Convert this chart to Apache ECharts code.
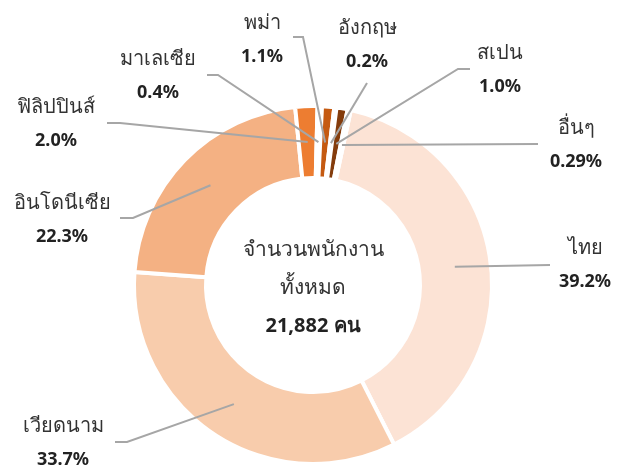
<!DOCTYPE html>
<html>
<head>
<meta charset="utf-8">
<script src="https://cdn.jsdelivr.net/npm/echarts@6/dist/echarts.min.js"></script>
<style>
  html, body { margin: 0; padding: 0; background: #fff; }
  #chart { width: 619px; height: 470px; }
</style>
</head>
<body>
<div id="chart"></div>
<script>
const countries = ["ไทย", "เวียดนาม", "อินโดนีเซีย", "ฟิลิปปินส์", "มาเลเซีย", "พม่า", "อังกฤษ", "สเปน", "อื่นๆ"];
const shares = [39.2, 33.7, 22.3, 2.0, 0.4, 1.1, 0.2, 1.0, 0.29];
const totalStaff = "21,882";
const centerLines = ["จำนวนพนักงาน", "ทั้งหมด"];

const sliceColors = ["#fce3d5", "#f8ccac", "#f4b183", "#ed7d31", "#ffffff", "#c55a11", "#ffffff", "#843c0c", "#ffffff"];

// label centre and the bends of its leader line, in pixels
const labelSpots = [
  { at: [585, 265], bend: [[550, 265]] },
  { at: [63, 443], bend: [[127, 442], [115, 442]] },
  { at: [62, 220], bend: [[133, 218], [120, 218]] },
  { at: [56, 124], bend: [[120, 123], [107, 123]] },
  { at: [158, 76], bend: [[218, 75], [207, 75]] },
  { at: [262, 40], bend: [[303, 37], [293, 37]] },
  { at: [367, 45], bend: [[367, 83]] },
  { at: [500, 70], bend: [[458, 69], [470, 69]] },
  { at: [576, 145], bend: [[538, 144]] },
];

const CX = 313, CY = 285, R0 = 107, R1 = 179;
const START = 77.8;
const FONT = "Noto Sans, sans-serif";

const sum = shares.reduce((a, b) => a + b, 0);

// middle of the ring at the slice's middle angle
function midPoint(i) {
  let before = 0;
  for (let k = 0; k < i; k++) before += shares[k];
  const deg = START - ((before + shares[i] / 2) / sum) * 360;
  const rad = (deg * Math.PI) / 180;
  const r = (R0 + R1) / 2;
  return [CX + r * Math.cos(rad), CY - r * Math.sin(rad)];
}

function pct(v) {
  const s = String(v);
  return (s.indexOf(".") >= 0 ? s : v.toFixed(1)) + "%";
}

const leaders = labelSpots.map((s, i) => ({
  type: "polyline",
  z: 100,
  silent: true,
  shape: { points: [midPoint(i)].concat(s.bend) },
  style: { stroke: "#a6a6a6", lineWidth: 2, fill: null },
}));

const chart = echarts.init(document.getElementById("chart"));

const option = {
  animation: false,
  textStyle: { fontFamily: FONT },
  graphic: [
    {
      type: "text",
      x: CX,
      y: CY + 3,
      style: {
        text: `{a|${centerLines[0]}}\n{a|${centerLines[1]}}\n{b|${totalStaff} คน}`,
        align: "center",
        verticalAlign: "middle",
        fontFamily: FONT,
        rich: {
          a: { fontSize: 21, lineHeight: 38, fill: "#333", fontFamily: FONT },
          b: { fontSize: 20, lineHeight: 38, fill: "#222", fontWeight: "bold", fontFamily: FONT },
        },
      },
    },
  ].concat(leaders),
  series: [
    {
      type: "pie",
      center: [CX, CY],
      radius: [R0, R1],
      startAngle: START,
      clockwise: true,
      silent: true,
      itemStyle: { borderColor: "#fff", borderWidth: 4 },
      label: {
        show: true,
        position: "outside",
        formatter: (p) => `{n|${p.name}}\n{p|${pct(p.value)}}`,
        rich: {
          n: { fontSize: 20, lineHeight: 34, color: "#333", fontFamily: FONT },
          p: { fontSize: 18, lineHeight: 34, color: "#222", fontWeight: "bold", fontFamily: FONT },
        },
      },
      labelLine: { show: false },
      labelLayout: (params) => {
        const s = labelSpots[params.dataIndex];
        return { x: s.at[0], y: s.at[1], align: "center", verticalAlign: "middle" };
      },
      data: countries.map((name, i) => ({
        name: name,
        value: shares[i],
        itemStyle: { color: sliceColors[i] },
      })),
    },
  ],
};

chart.setOption(option);
</script>
</body>
</html>
